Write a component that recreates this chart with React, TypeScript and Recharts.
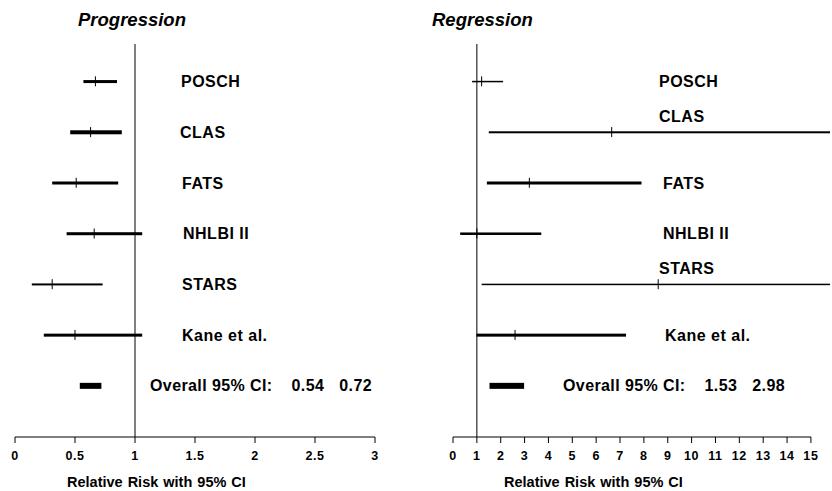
import React from 'react';
import {
  ComposedChart,
  Bar,
  Scatter,
  XAxis,
  YAxis,
  ReferenceLine,
} from 'recharts';

const studies = ['POSCH', 'CLAS', 'FATS', 'NHLBI II', 'STARS', 'Kane et al.'];

const progLow = [0.57, 0.46, 0.31, 0.43, 0.14, 0.24];
const progPoint = [0.67, 0.63, 0.51, 0.66, 0.31, 0.5];
const progHigh = [0.85, 0.89, 0.86, 1.06, 0.73, 1.06];
const progOverall = [0.54, 0.72];

const regLow = [0.8, 1.5, 1.42, 0.3, 1.2, 0.98];
const regPoint = [1.2, 6.65, 3.2, 1.0, 8.6, 2.6];
const regHigh = [2.1, 15.8, 7.9, 3.7, 15.8, 7.25];
const regOverall = [1.53, 2.98];

const progTicks = [0, 0.5, 1, 1.5, 2, 2.5, 3];
const regTicks = [0, 1, 2, 3, 4, 5, 6, 7, 8, 9, 10, 11, 12, 13, 14, 15];

const axisTitle = 'Relative Risk with 95% CI';

const FONT = '"Liberation Sans", Arial, sans-serif';

function buildRows(low: number[], point: number[], high: number[], overall: number[]) {
  const rows = studies.map((name, i) => ({
    name,
    ci: [low[i], high[i]],
    point: point[i],
  }));
  rows.push({ name: 'Overall', ci: overall, point: null as any });
  return rows;
}

const progRows = buildRows(progLow, progPoint, progHigh, progOverall);
const regRows = buildRows(regLow, regPoint, regHigh, regOverall);

type PanelProps = {
  rows: any[];
  ticks: number[];
  domain: [number, number];
  overall: number[];
  thickness: number[];
  left: number;
  margin: { left: number; right: number };
  labelMargin: number;
  labelNudge: number[];
  overallShift: number;
  liftedRows: string[];
  axisDash?: string;
};

function Panel(p: PanelProps) {
  const renderTick = (t: any) => {
    const name = t.payload.value;
    if (name === 'Overall') {
      return (
        <text
          x={t.x - p.overallShift}
          y={t.y}
          dy="0.36em"
          fontSize={16}
          fontWeight="bold"
          fontFamily={FONT}
          letterSpacing={0.4}
          fill="#000"
        >
          Overall 95% CI:
          <tspan dx={19}>{p.overall[0].toFixed(2)}</tspan>
          <tspan dx={15}>{p.overall[1].toFixed(2)}</tspan>
        </text>
      );
    }
    const lift = p.liftedRows.includes(name) ? -16 : 0;
    return (
      <text
        x={t.x + (p.labelNudge[t.index] ?? 0)}
        y={t.y + lift}
        dy="0.36em"
        fontSize={16}
        fontWeight="bold"
        fontFamily={FONT}
        letterSpacing={0.5}
        fill="#000"
      >
        {name}
      </text>
    );
  };

  return (
    <div style={{ position: 'absolute', left: p.left, top: 0 }}>
      <ComposedChart
        width={416}
        height={491}
        data={p.rows}
        layout="vertical"
        margin={{ top: 44, right: p.margin.right, bottom: 0, left: p.margin.left }}
      >
        <XAxis
          type="number"
          domain={p.domain}
          ticks={p.ticks}
          height={54}
          interval={0}
          axisLine={{ stroke: '#000', strokeDasharray: p.axisDash }}
          tickLine={{ stroke: '#000' }}
          tickSize={6}
          tickMargin={8}
          tick={{ fill: '#000', fontSize: 12.5, fontWeight: 'bold', fontFamily: FONT, letterSpacing: 0.6 }}
        />
        <YAxis
          type="category"
          dataKey="name"
          mirror
          padding={{ top: 12, bottom: 26 }}
          axisLine={false}
          tickLine={false}
          tickSize={0}
          tickMargin={p.labelMargin}
          interval={0}
          tick={renderTick}
        />
        <ReferenceLine x={1} stroke="#000" strokeWidth={1} />
        <Bar
          dataKey="ci"
          isAnimationActive={false}
          fill="#000"
          shape={(b: any) => {
            const t = p.thickness[b.index] ?? 3;
            return (
              <rect
                x={b.x}
                y={b.y + b.height / 2 - t / 2}
                width={b.width}
                height={t}
                fill="#000"
              />
            );
          }}
        />
        <Scatter
          dataKey="point"
          isAnimationActive={false}
          shape={(s: any) => {
            if (s.payload == null || s.payload.point == null) return <g />;
            return (
              <line
                x1={s.cx}
                x2={s.cx}
                y1={s.cy - 5}
                y2={s.cy + 5}
                stroke="#000"
                strokeWidth={1}
              />
            );
          }}
        />
      </ComposedChart>
    </div>
  );
}

const titleStyle: React.CSSProperties = {
  position: 'absolute',
  top: 11,
  fontSize: 18.5,
  lineHeight: '18px',
  fontWeight: 'bold',
  fontStyle: 'italic',
  color: '#000',
};

const axisTitleStyle: React.CSSProperties = {
  position: 'absolute',
  top: 474,
  fontSize: 14.5,
  lineHeight: '16px',
  fontWeight: 'bold',
  wordSpacing: 1,
  color: '#000',
  whiteSpace: 'nowrap',
};

export default function App() {
  return (
    <div
      style={{
        position: 'relative',
        width: 832,
        height: 491,
        background: '#fff',
        fontFamily: FONT,
        overflow: 'hidden',
      }}
    >
      <style>{'html, body { margin: 0; padding: 0; overflow: hidden; }'}</style>
      <div style={{ ...titleStyle, left: 78 }}>Progression</div>
      <div style={{ ...titleStyle, left: 432 }}>Regression</div>
      <Panel
        rows={progRows}
        ticks={progTicks}
        domain={[0, 3]}
        overall={progOverall}
        thickness={[3, 4, 3, 3, 2, 3, 6]}
        left={0}
        margin={{ left: 15, right: 41 }}
        labelMargin={166}
        labelNudge={[0, -1, 1, 2, 1, 1]}
        overallShift={31}
        liftedRows={[]}
      />
      <Panel
        rows={regRows}
        ticks={regTicks}
        domain={[0, 15.8]}
        overall={regOverall}
        thickness={[1.5, 2, 3, 2.5, 1.5, 3, 6]}
        left={416}
        margin={{ left: 37, right: 2 }}
        labelMargin={206}
        labelNudge={[0, 0, 4, 4, 0, 6]}
        overallShift={96}
        liftedRows={['CLAS', 'STARS']}
        axisDash="358 60"
      />
      <div style={{ ...axisTitleStyle, left: 67 }}>{axisTitle}</div>
      <div style={{ ...axisTitleStyle, left: 504 }}>{axisTitle}</div>
    </div>
  );
}
